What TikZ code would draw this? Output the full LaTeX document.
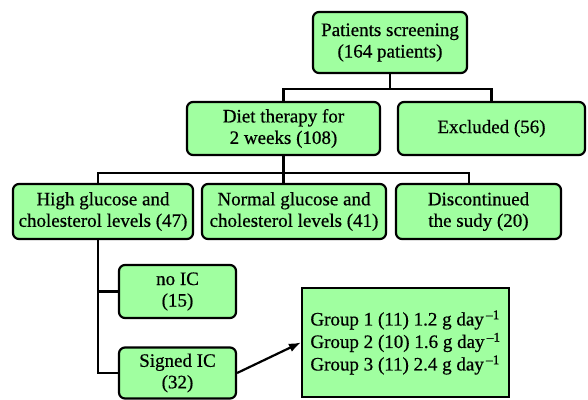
\documentclass[tikz,border=0pt]{standalone}
\usepackage{fontspec}
\setmainfont{Liberation Serif}[UprightFeatures={FakeBold=0.6}]
\usetikzlibrary{arrows.meta}
\definecolor{boxgreen}{RGB}{160,255,160}
\tikzset{
  rbox/.style={draw=black, fill=boxgreen, line width=2.2pt, rounded corners=6pt,
    align=center, inner sep=0pt, font=\fontsize{19}{21.5}\selectfont},
  sbox/.style={draw=black, fill=boxgreen, line width=2.2pt,
    align=left, inner sep=0pt, font=\fontsize{19}{22.5}\selectfont},
  conn/.style={draw=black, line width=2.2pt},
}
\newcommand{\perday}{day\textsuperscript{\,–1}}
\begin{document}
\begin{tikzpicture}[x=1pt,y=-1pt]
\useasboundingbox (0,0) rectangle (588,399);
\node[rbox, minimum width=154pt, minimum height=61pt] (screen) at (390,42.5) {Patients screening\\(164 patients)};
\node[rbox, minimum width=193pt, minimum height=53pt] (diet) at (283.5,128.5) {Diet therapy for\\2 weeks (108)};
\node[rbox, minimum width=187pt, minimum height=53pt] (excl) at (491.5,128.5) {Excluded (56)};
\node[rbox, minimum width=180pt, minimum height=55pt] (high) at (103,211.5) {High glucose and\\cholesterol levels (47)};
\node[rbox, minimum width=184pt, minimum height=55pt] (normal) at (294,211.5) {Normal glucose and\\cholesterol levels (41)};
\node[rbox, minimum width=165pt, minimum height=55pt] (disc) at (478.5,211.5) {Discontinued\\the sudy (20)};
\node[rbox, minimum width=117pt, minimum height=53pt] (noic) at (177.5,291.5) {no IC\\(15)};
\node[rbox, minimum width=117pt, minimum height=51pt] (signed) at (177.5,373) {Signed IC\\(32)};
\node[sbox, minimum width=207pt, minimum height=109pt] (group) at (405.5,342.5)
  {Group 1 (11) 1.2 g \perday\\Group 2 (10) 1.6 g \perday\\Group 3 (11) 2.4 g \perday};
\coordinate (b1) at (390,89);
\coordinate (b2) at (283,173);
\coordinate (trunk) at (98,173);
\coordinate (r2) at (469,173);
\draw[conn] (screen.south) -- (b1);
\draw[conn] (diet.north) |- (b1) -| (excl.north);
\draw[conn] (diet.south) -- (diet.south |- normal.north);
\draw[conn] (trunk |- high.north) -- (trunk) -- (r2) -- (r2 |- disc.north);
\draw[conn] (trunk |- high.south) |- (signed.west);
\draw[conn] (trunk |- noic.west) -- (noic.west);
\draw[conn, -{Latex[length=12pt,width=9pt]}] (signed.east) -- (group.west);
\end{tikzpicture}
\end{document}
